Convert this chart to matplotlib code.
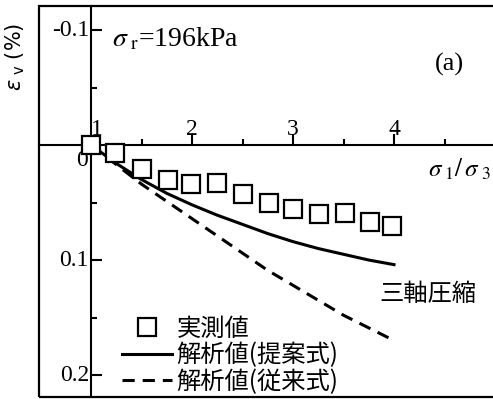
import matplotlib
matplotlib.use("Agg")
import matplotlib.pyplot as plt
from matplotlib.patches import Rectangle

# Principal stress ratio and volumetric strain (%)
ratio_measured = [1.0, 1.24, 1.50, 1.76, 1.99, 2.25, 2.50, 2.76, 3.00, 3.26, 3.51, 3.76, 3.98]
ev_measured = [0.0, 0.007, 0.021, 0.030, 0.034, 0.033, 0.043, 0.050, 0.056, 0.060, 0.059, 0.067, 0.070]

ratio_model = [1.0, 1.25, 1.5, 1.75, 2.0, 2.25, 2.5, 2.75, 3.0, 3.25, 3.5, 3.75, 4.0]
ev_proposed = [0.0, 0.016, 0.030, 0.042, 0.052, 0.061, 0.069, 0.077, 0.084, 0.090, 0.095, 0.100, 0.104]
ev_conventional = [0.0, 0.017, 0.034, 0.049, 0.064, 0.079, 0.094, 0.109, 0.122, 0.135, 0.148, 0.159, 0.170]

xtick_major = [2, 3, 4]
xtick_minor = [1.5, 2.5, 3.5, 4.5]
ytick_major = [-0.1, 0.1, 0.2]
ytick_minor = [-0.05, 0.05, 0.15]
ytick_labels = ["-0.1", "0.1", "0.2"]

legend_labels = ["実測値", "解析値(提案式)", "解析値(従来式)"]

SERIF = "Liberation Serif"
CJK = ["Noto Sans CJK JP", "DejaVu Sans"]

W, H = 493, 399
fig = plt.figure(figsize=(W / 100, H / 100), dpi=100)
left, right, bottom, top = 39, 494, 2, 393
ax = fig.add_axes([left / W, bottom / H, (right - left) / W, (top - bottom) / H])
ax.set_xlim(0.485, 0.485 + (right - left) / 101.0)
ax.set_ylim(0.2191, 0.2191 - (top - bottom) / 1150.0)

# Outer frame
for s in ax.spines.values():
    s.set_visible(False)
ax.add_patch(Rectangle((0, 0), 1.05, 1, transform=ax.transAxes, fill=False,
                       lw=1.6, ec="black", clip_on=False, zorder=5))

# Axes lines through the origin (1, 0)
ax.spines["left"].set_visible(True)
ax.spines["bottom"].set_visible(True)
ax.spines["left"].set_position(("data", 1.0))
ax.spines["bottom"].set_position(("data", 0.0))
ax.spines["left"].set_linewidth(1.5)
ax.spines["bottom"].set_linewidth(1.5)

ax.set_xticks(xtick_major)
ax.set_xticks(xtick_minor, minor=True)
ax.set_yticks(ytick_major)
ax.set_yticks(ytick_minor, minor=True)
ax.tick_params(which="both", direction="in", width=1.5, color="black",
               labelbottom=False, labelleft=False)
ax.tick_params(which="major", length=8)
ax.tick_params(which="minor", length=4)

tick_font = dict(family=SERIF, fontsize=17)
for v in xtick_major:
    ax.annotate(str(v), xy=(v, 0), xytext=(0, 7.5), textcoords="offset points",
                ha="center", va="baseline", **tick_font)
ax.annotate("1", xy=(1, 0), xytext=(4.5, 7.5), textcoords="offset points",
            ha="center", va="baseline", **tick_font)
for v, lab in zip(ytick_major, ytick_labels):
    ax.annotate(lab, xy=(1, v), xytext=(-1.5, 0), textcoords="offset points",
                ha="right", va="center", **tick_font)
ax.annotate("0", xy=(1, 0), xytext=(-2.5, -11), textcoords="offset points",
            ha="right", va="center", **tick_font)

# Data and model curves
ax.plot(ratio_measured, ev_measured, ls="none", marker="s", ms=12.5, mfc="white",
        mec="black", mew=1.6, label=legend_labels[0], zorder=4)
ax.plot(ratio_model, ev_proposed, color="black", lw=2.2, label=legend_labels[1], zorder=3)
ax.plot(ratio_model, ev_conventional, color="black", lw=2.2, ls=(0, (4, 2.6)),
        label=legend_labels[2], zorder=3)

leg = ax.legend(loc="upper left", bbox_to_anchor=(122 / W, 1 - 316 / H),
                bbox_transform=fig.transFigure, frameon=False,
                prop=dict(family=CJK, size=17.5), handlelength=2.05,
                handletextpad=0.2, labelspacing=0.02, borderpad=0, borderaxespad=0)

# Annotations
fig.text(112 / W, 1 - 39 / H, r"$\sigma_{\ \rm r}$=196kPa", family=SERIF,
         math_fontfamily="stix", fontsize=20, ha="left", va="center")
fig.text(449 / W, 1 - 64 / H, "(a)", family=SERIF, fontsize=19, ha="center", va="center")
fig.text(491 / W, 1 - 169 / H, r"$\sigma_{\ 1}/\,\sigma_{\ 3}$", family=SERIF,
         math_fontfamily="stix", fontsize=18, ha="right", va="center")
fig.text(428 / W, 1 - 294 / H, "三軸圧縮", family=CJK, fontsize=17.5,
         ha="center", va="center")
fig.text(15 / W, 1 - 57 / H, r"$\varepsilon_{\ \rm v}$ (%)", family="DejaVu Sans",
         math_fontfamily="dejavusans", fontsize=15, rotation=90,
         ha="center", va="center")

fig.savefig("out.png", dpi=100)
